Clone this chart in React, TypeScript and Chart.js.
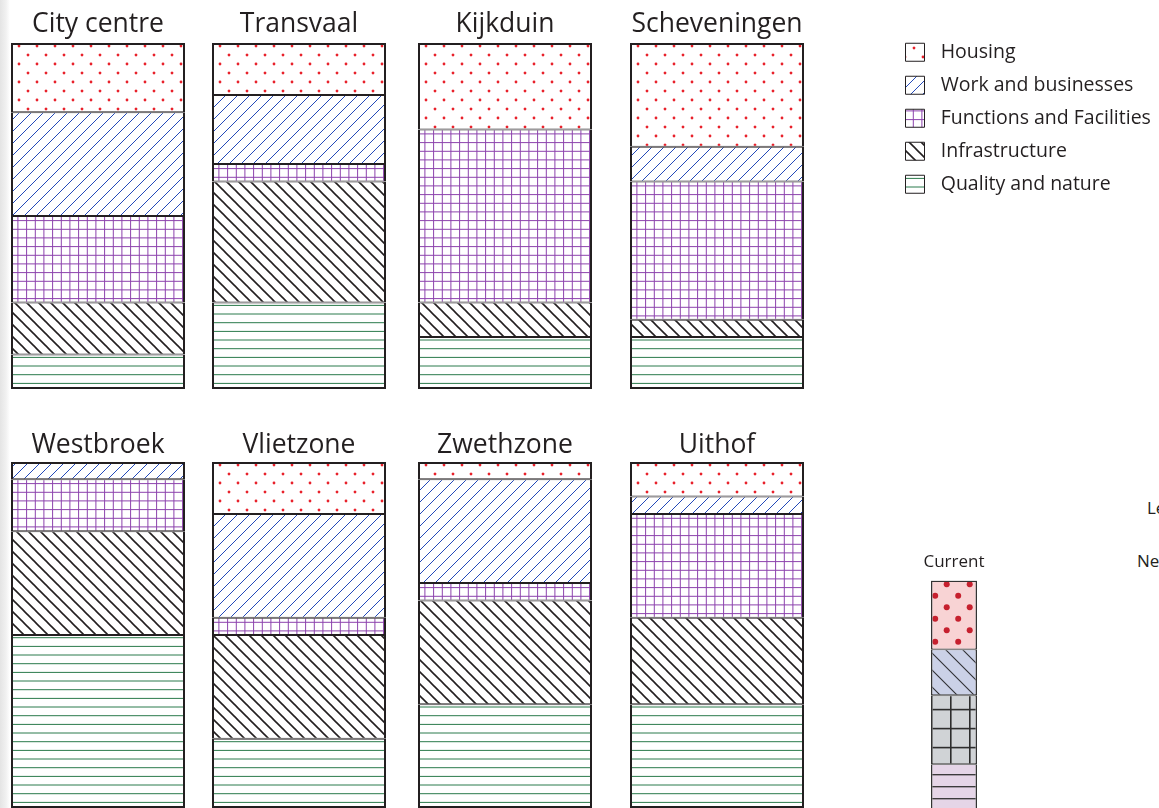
import React, { useEffect, useRef } from 'react';
import { Chart, registerables } from 'chart.js';

Chart.register(...registerables);

// ---------- data ----------
const categories = ['Housing', 'Work and businesses', 'Functions and Facilities', 'Infrastructure', 'Quality and nature'];
const districts = ['City centre', 'Transvaal', 'Kijkduin', 'Scheveningen', 'Westbroek', 'Vlietzone', 'Zwethzone', 'Uithof'];
// share (%) of each land-use category per district
const housing = [20, 15, 25, 30, 0, 15, 5, 10];
const work = [30, 20, 0, 10, 5, 30, 30, 5];
const functions = [25, 5, 50, 40, 15, 5, 5, 30];
const infrastructure = [15, 35, 10, 5, 30, 30, 30, 25];
const quality = [10, 25, 15, 15, 50, 20, 30, 30];

const currentTitle = 'Current';
const currentCategories = ['Housing', 'Work and businesses', 'Functions and Facilities', 'Quality and nature'];
const currentValues = [3, 2, 3, 4];
const currentMax = 12;

const cutTexts = ['Le', 'Ne'];

// ---------- layout / style ----------
const FONT = "'Open Sans', 'Noto Sans', sans-serif";
const INK = '#231f20';
const CANVAS_W = 220;
const BAR_W = 174;
const BAR_LEFTS = [11, 212, 418, 630];
const ROW_TOPS = [0, 419];
const TITLE_SIZE = 26.5;
const TITLE_PAD = [{ top: 8.2, bottom: 3 }, { top: 10.7, bottom: 0.5 }];

type Paint = (g: CanvasRenderingContext2D, w: number, h: number) => void;

function makePattern(ctx: CanvasRenderingContext2D, w: number, h: number, paint: Paint): CanvasPattern {
  const c = document.createElement('canvas');
  c.width = w;
  c.height = h;
  const g = c.getContext('2d')!;
  paint(g, w, h);
  return ctx.createPattern(c, 'repeat')!;
}

function seg(g: CanvasRenderingContext2D, x1: number, y1: number, x2: number, y2: number) {
  g.beginPath();
  g.moveTo(x1, y1);
  g.lineTo(x2, y2);
  g.stroke();
}

function dot(g: CanvasRenderingContext2D, x: number, y: number, r: number) {
  g.beginPath();
  g.arc(x, y, r, 0, Math.PI * 2);
  g.fill();
}

function mainPatterns(ctx: CanvasRenderingContext2D): CanvasPattern[] {
  const dots = makePattern(ctx, 18, 18, (g, w, h) => {
    g.fillStyle = '#fff';
    g.fillRect(0, 0, w, h);
    g.fillStyle = '#e8212b';
    dot(g, 13, 10, 1.4);
    dot(g, 4, 1, 1.4);
    dot(g, 4, 19, 1.4);
  });
  const slash = makePattern(ctx, 12, 12, (g, w, h) => {
    g.fillStyle = '#fff';
    g.fillRect(0, 0, w, h);
    g.strokeStyle = '#2349b8';
    g.lineWidth = 1;
    seg(g, -1, h + 1, w + 1, -1);
    seg(g, -1, 1, 1, -1);
    seg(g, w - 1, h + 1, w + 1, h - 1);
  });
  const grid = makePattern(ctx, 26, 26, (g, w, h) => {
    g.fillStyle = '#fff';
    g.fillRect(0, 0, w, h);
    g.strokeStyle = '#8d43ad';
    g.lineWidth = 1;
    for (const p of [3.9, 12.6, 21.3]) {
      seg(g, p, 0, p, h);
      seg(g, 0, p, w, p);
    }
  });
  const back = makePattern(ctx, 12, 12, (g, w, h) => {
    g.fillStyle = '#fff';
    g.fillRect(0, 0, w, h);
    g.strokeStyle = INK;
    g.lineWidth = 1.6;
    seg(g, -1, -1, w + 1, h + 1);
    seg(g, -1, h - 1, 1, h + 1);
    seg(g, w - 1, -1, w + 1, 1);
  });
  const lines = makePattern(ctx, 26, 26, (g, w, h) => {
    g.fillStyle = '#fff';
    g.fillRect(0, 0, w, h);
    g.strokeStyle = '#2b7a4c';
    g.lineWidth = 1;
    for (const p of [2, 10.7, 19.4]) seg(g, 0, p, w, p);
  });
  return [dots, slash, grid, back, lines];
}

function currentPatterns(ctx: CanvasRenderingContext2D): CanvasPattern[] {
  const dots = makePattern(ctx, 23, 23, (g, w, h) => {
    g.fillStyle = '#f8d3d4';
    g.fillRect(0, 0, w, h);
    g.fillStyle = '#c6202e';
    for (const [x, y] of [[8.2, 9.7], [19.7, 21.2], [19.7 - 23, 21.2], [19.7, 21.2 - 23], [19.7 - 23, 21.2 - 23]]) dot(g, x, y, 3);
  });
  const diag = makePattern(ctx, 17, 17, (g, w, h) => {
    g.fillStyle = '#cbd1e7';
    g.fillRect(0, 0, w, h);
    g.strokeStyle = '#2f2f33';
    g.lineWidth = 1.1;
    seg(g, -1, -1, w + 1, h + 1);
    seg(g, -1, h - 1, 1, h + 1);
    seg(g, w - 1, -1, w + 1, 1);
  });
  const grid = makePattern(ctx, 19, 19, (g, w, h) => {
    g.fillStyle = '#d0d3d6';
    g.fillRect(0, 0, w, h);
    g.strokeStyle = '#2d2d2d';
    g.lineWidth = 1.6;
    seg(g, 8.8, 0, 8.8, h);
    seg(g, 0, 17.6, w, 17.6);
  });
  const lilac = makePattern(ctx, 12, 12, (g, w, h) => {
    g.fillStyle = '#e5d5e7';
    g.fillRect(0, 0, w, h);
    g.strokeStyle = '#333';
    g.lineWidth = 1.3;
    seg(g, 0, 6.7, w, 6.7);
  });
  return [dots, diag, grid, lilac];
}

function edgeWidths(outer: number, inner: number) {
  return (c: any) => {
    const ds = c.chart.data.datasets;
    const i = c.dataIndex;
    if (i === undefined) return outer;
    let bot = -1;
    let top = -1;
    for (let d = 0; d < ds.length; d++) {
      if ((ds[d].data[i] as number) > 0) {
        if (bot < 0) bot = d;
        top = d;
      }
    }
    return {
      left: outer,
      right: outer,
      top: c.datasetIndex === top ? outer : inner,
      bottom: c.datasetIndex === bot ? outer : inner,
    };
  };
}

const hiddenScales = (max: number) => ({
  x: { stacked: true, display: false },
  y: { stacked: true, display: false, min: 0, max },
});

export default function App() {
  const barRefs = useRef<(HTMLCanvasElement | null)[]>([]);
  const legendRef = useRef<HTMLCanvasElement | null>(null);
  const currentRef = useRef<HTMLCanvasElement | null>(null);

  useEffect(() => {
    const charts: Chart[] = [];
    const series = [housing, work, functions, infrastructure, quality];
    const stackOrder = [4, 3, 2, 1, 0];

    districts.forEach((name, i) => {
      const canvas = barRefs.current[i];
      if (!canvas) return;
      const pats = mainPatterns(canvas.getContext('2d')!);
      const row = Math.floor(i / 4);
      charts.push(
        new Chart(canvas, {
          type: 'bar',
          data: {
            labels: [name],
            datasets: stackOrder.map((k) => ({
              label: categories[k],
              data: [series[k][i]],
              backgroundColor: pats[k],
              borderColor: INK,
              borderWidth: edgeWidths(2, 1) as any,
              borderSkipped: false,
              barPercentage: BAR_W / CANVAS_W,
              categoryPercentage: 1,
              inflateAmount: 0,
            })),
          },
          options: {
            animation: false,
            responsive: false,
            maintainAspectRatio: false,
            layout: { padding: 0 },
            scales: hiddenScales(100) as any,
            plugins: {
              legend: { display: false },
              tooltip: { enabled: false },
              title: {
                display: true,
                text: name,
                color: INK,
                font: { family: FONT, size: TITLE_SIZE, weight: 'normal' as any },
                padding: TITLE_PAD[row],
              },
            },
          },
        })
      );
    });

    if (legendRef.current) {
      const pats = mainPatterns(legendRef.current.getContext('2d')!);
      charts.push(
        new Chart(legendRef.current, {
          type: 'bar',
          data: {
            labels: [],
            datasets: categories.map((c, k) => ({
              label: c,
              data: [],
              backgroundColor: pats[k],
              borderColor: INK,
              borderWidth: 1,
            })),
          },
          options: {
            animation: false,
            responsive: false,
            maintainAspectRatio: false,
            layout: { padding: 0 },
            scales: hiddenScales(100) as any,
            plugins: {
              tooltip: { enabled: false },
              title: { display: false },
              legend: {
                display: true,
                position: 'left',
                align: 'start',
                labels: {
                  boxWidth: 19,
                  boxHeight: 18,
                  padding: 13.5,
                  color: INK,
                  font: { family: FONT, size: 19.5 },
                  generateLabels: (chart: any) =>
                    Chart.defaults.plugins.legend.labels
                      .generateLabels(chart)
                      .map((l: any) => ({ ...l, text: '\u2004' + l.text })),
                },
              },
            },
          },
        })
      );
    }

    if (currentRef.current) {
      const pats = currentPatterns(currentRef.current.getContext('2d')!);
      const order = [3, 2, 1, 0];
      charts.push(
        new Chart(currentRef.current, {
          type: 'bar',
          data: {
            labels: [currentTitle],
            datasets: order.map((k) => ({
              label: currentCategories[k],
              data: [currentValues[k]],
              backgroundColor: pats[k],
              borderColor: '#333',
              borderWidth: edgeWidths(1.5, 0.9) as any,
              borderSkipped: false,
              barPercentage: 0.46,
              categoryPercentage: 1,
              inflateAmount: 0,
            })),
          },
          options: {
            animation: false,
            responsive: false,
            maintainAspectRatio: false,
            layout: { padding: 0 },
            scales: hiddenScales(currentMax) as any,
            plugins: {
              legend: { display: false },
              tooltip: { enabled: false },
              title: {
                display: true,
                text: currentTitle,
                color: INK,
                font: { family: FONT, size: 17, weight: 'normal' as any },
                padding: { top: 12, bottom: 8 },
              },
            },
          },
        })
      );
    }

    return () => charts.forEach((c) => c.destroy());
  }, []);

  return (
    <div
      style={{
        position: 'fixed',
        left: 0,
        top: 0,
        width: 1159,
        height: 808,
        overflow: 'hidden',
        background: '#fff',
      }}
    >
      <div
        style={{
          position: 'absolute',
          left: 0,
          top: 0,
          width: 10,
          height: 808,
          background: 'linear-gradient(to right, #e4e4e4, #f1f1f1 60%, #fff)',
        }}
      />
      {districts.map((d, i) => (
        <canvas
          key={d}
          ref={(el) => {
            barRefs.current[i] = el;
          }}
          width={CANVAS_W}
          height={389}
          style={{
            position: 'absolute',
            display: 'block',
            left: BAR_LEFTS[i % 4] - (CANVAS_W - BAR_W) / 2,
            top: ROW_TOPS[Math.floor(i / 4)],
          }}
        />
      ))}
      <canvas
        ref={legendRef}
        width={640}
        height={200}
        style={{ position: 'absolute', display: 'block', left: 892, top: 29 }}
      />
      <canvas
        ref={currentRef}
        width={100}
        height={316}
        style={{ position: 'absolute', display: 'block', left: 904, top: 540 }}
      />
      {cutTexts.map((t, i) => (
        <div
          key={t}
          style={{
            position: 'absolute',
            left: i === 0 ? 1147 : 1137,
            top: i === 0 ? 498 : 551,
            fontFamily: FONT,
            fontSize: 17,
            lineHeight: '20px',
            color: INK,
            whiteSpace: 'nowrap',
          }}
        >
          {t}
        </div>
      ))}
    </div>
  );
}
